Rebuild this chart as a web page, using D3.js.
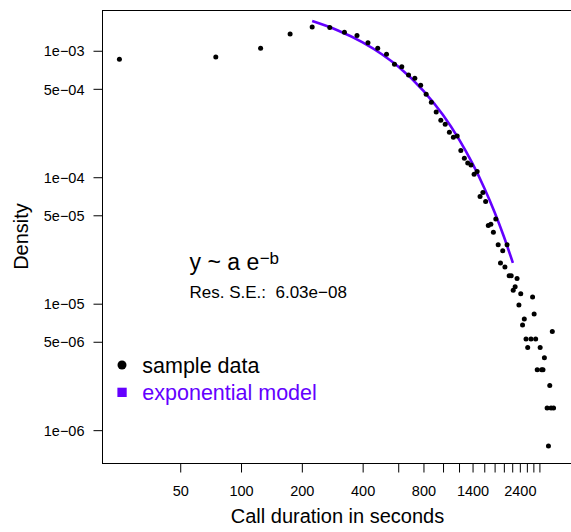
<!DOCTYPE html>
<html>
<head>
<meta charset="utf-8">
<script src="https://cdn.jsdelivr.net/npm/d3@7"></script>
<style>
  html, body { margin: 0; padding: 0; background: #fff; }
  svg { display: block; font-family: "Liberation Sans", Arial, Helvetica, sans-serif; }
</style>
</head>
<body>
<svg id="chart" width="571" height="532"></svg>
<script>
// ---- data ----
const durations = [25, 75, 125, 175, 225, 275, 325, 375, 425, 475, 525, 575, 625, 675, 725, 775, 825, 875, 925, 975,
  1025, 1075, 1125, 1175, 1225, 1275, 1325, 1375, 1425, 1475, 1525, 1575, 1625, 1675, 1725, 1775, 1825, 1875, 1925, 1975,
  2025, 2075, 2125, 2175, 2225, 2275, 2325, 2375, 2425, 2475, 2525, 2575, 2625, 2725, 2775, 2825, 2875, 2925, 3025, 3075,
  3125, 3175, 3275, 3325, 3375, 3425, 3475, 3525];
const densities = [8.55e-4, 8.92e-4, 1.045e-3, 1.355e-3, 1.539e-3, 1.53e-3, 1.398e-3, 1.323e-3, 1.157e-3, 1.045e-3,
  9.37e-4, 7.81e-4, 7.48e-4, 6.43e-4, 6.05e-4, 5.33e-4, 4.53e-4, 3.91e-4, 3.28e-4, 2.82e-4,
  2.62e-4, 2.27e-4, 2.07e-4, 2.12e-4, 1.624e-4, 1.41e-4, 1.298e-4, 1.252e-4, 1.057e-4, 1.108e-4,
  7.04e-5, 7.57e-5, 6.43e-5, 4.15e-5, 4.25e-5, 3.68e-5, 4.67e-5, 2.92e-5, 2.10e-5, 2.62e-5,
  1.95e-5, 2.92e-5, 1.66e-5, 1.66e-5, 1.28e-5, 1.36e-5, 1.58e-5, 9.77e-6, 1.20e-5, 6.80e-6,
  7.58e-6, 5.27e-6, 4.50e-6, 5.27e-6, 1.13e-5, 8.30e-6, 5.27e-6, 3.01e-6, 4.50e-6, 3.01e-6,
  3.01e-6, 3.73e-6, 1.50e-6, 7.5e-7, 2.25e-6, 1.50e-6, 6.02e-6, 1.50e-6];

// exponential model curve
const modelDurations = [225, 300, 400, 500, 600, 800, 1000, 1200, 1400, 1600, 1800, 2000, 2218];
const modelDensities = [1.716e-3, 1.454e-3, 1.166e-3, 9.35e-4, 7.50e-4, 4.82e-4, 3.10e-4, 1.99e-4, 1.28e-4, 8.23e-5, 5.29e-5, 3.40e-5, 2.10e-5];

const xTickValues = [50, 100, 200, 400, 600, 800, 1000, 1200, 1400, 1600, 1800, 2000, 2200, 2400, 2600, 2800, 3000];
const xLabelledTicks = [50, 100, 200, 400, 800, 1400, 2400];
const yTickValues = [1e-6, 5e-6, 1e-5, 5e-5, 1e-4, 5e-4, 1e-3];
const yTickLabels = ["1e\u221206", "5e\u221206", "1e\u221205", "5e\u221205", "1e\u221204", "5e\u221204", "1e\u221203"];

const legendLabels = ["sample data", "exponential model"];
const equationText = "y ~ a e";
const equationExp = "\u2212b";
const residualText = "Res. S.E.:  6.03e\u221208";

// ---- layout ----
const purple = "#6400ff";
const plotLeft = 102, plotRight = 571, plotTop = 10, plotBottom = 463;

const svg = d3.select("#chart");
const x = d3.scaleLog().domain([20.5, 4300]).range([plotLeft, plotRight]);
const y = d3.scaleLog().domain([5.5e-7, 2.1e-3]).range([plotBottom, plotTop]);

// box
svg.append("rect")
  .attr("x", plotLeft + 0.5).attr("y", plotTop + 0.5)
  .attr("width", plotRight - plotLeft + 5).attr("height", plotBottom - plotTop)
  .attr("fill", "none").attr("stroke", "#000").attr("stroke-width", 1);

// x axis
const xAxis = d3.axisBottom(x).tickValues(xTickValues).tickSize(9)
  .tickFormat(d => xLabelledTicks.includes(d) ? String(d) : "");
const gx = svg.append("g").attr("transform", `translate(0,${plotBottom + 0.5})`).call(xAxis);
gx.select(".domain").remove();
gx.selectAll(".tick line").attr("stroke", "#000");
gx.selectAll(".tick text")
  .attr("y", 32).attr("dy", null)
  .attr("font-size", 14.5).attr("fill", "#000")
  .attr("font-family", "Liberation Sans, Arial, sans-serif");

// y axis
const yAxis = d3.axisLeft(y).tickValues(yTickValues).tickSize(9)
  .tickFormat((d, i) => yTickLabels[i]);
const gy = svg.append("g").attr("transform", `translate(${plotLeft + 0.5},0)`).call(yAxis);
gy.select(".domain").remove();
gy.selectAll(".tick line").attr("stroke", "#000");
gy.selectAll(".tick text")
  .attr("x", -18).attr("dy", "0.36em")
  .attr("font-size", 14.5).attr("fill", "#000")
  .attr("font-family", "Liberation Sans, Arial, sans-serif");

// axis titles
svg.append("text")
  .attr("x", (plotLeft + plotRight) / 2 + 1).attr("y", 523)
  .attr("text-anchor", "middle").attr("font-size", 20).attr("fill", "#000")
  .text("Call duration in seconds");
svg.append("text")
  .attr("transform", `translate(28,${(plotTop + plotBottom) / 2}) rotate(-90)`)
  .attr("text-anchor", "middle").attr("font-size", 20).attr("fill", "#000")
  .text("Density");

// model line
const line = d3.line().x(d => x(d[0])).y(d => y(d[1])).curve(d3.curveMonotoneX);
svg.append("path")
  .datum(d3.zip(modelDurations, modelDensities))
  .attr("d", line)
  .attr("fill", "none").attr("stroke", purple).attr("stroke-width", 2.6);

// points
svg.append("g").selectAll("circle")
  .data(d3.zip(durations, densities))
  .join("circle")
  .attr("cx", d => x(d[0])).attr("cy", d => y(d[1]))
  .attr("r", 2.5).attr("fill", "#000");

// equation
const eq = svg.append("text")
  .attr("x", 189.5).attr("y", 269.5)
  .attr("font-size", 23).attr("fill", "#000")
  .text(equationText);
const eqLen = eq.node().getComputedTextLength();
svg.append("text")
  .attr("x", 189.5 + eqLen + 0.5).attr("y", 263.5)
  .attr("font-size", 17).attr("fill", "#000")
  .text(equationExp);
svg.append("text")
  .attr("x", 189.5).attr("y", 297.7)
  .attr("font-size", 17).attr("fill", "#000")
  .style("white-space", "pre")
  .text(residualText);

// legend
svg.append("circle").attr("cx", 122).attr("cy", 365).attr("r", 4.5).attr("fill", "#000");
svg.append("text").attr("x", 142.3).attr("y", 372.7)
  .attr("font-size", 21.5).attr("fill", "#000").text(legendLabels[0]);
svg.append("rect").attr("x", 117.4).attr("y", 387.7).attr("width", 9.3).attr("height", 9.3).attr("fill", purple);
svg.append("text").attr("x", 142.3).attr("y", 400)
  .attr("font-size", 21.5).attr("fill", purple).text(legendLabels[1]);
</script>
</body>
</html>
